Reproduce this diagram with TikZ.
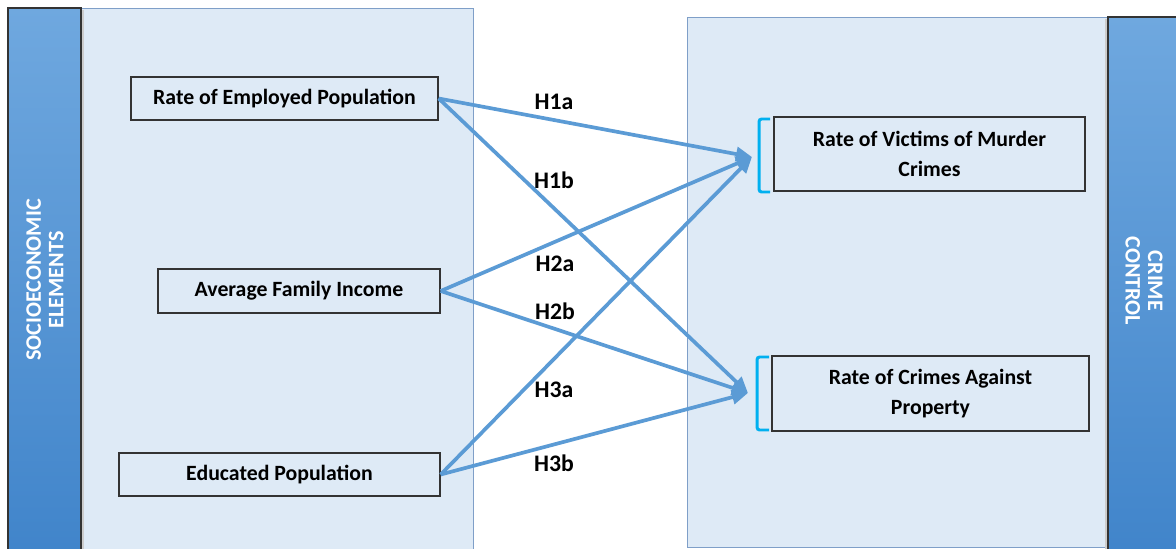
\documentclass[tikz,border=0pt]{standalone}
\usepackage{fontspec}
\setmainfont{Carlito}
\usetikzlibrary{arrows.meta}
\definecolor{panelblue}{HTML}{DEEAF6}
\definecolor{paneledge}{HTML}{7F9FC8}
\definecolor{arrowblue}{HTML}{5B9BD5}
\definecolor{bartop}{HTML}{6FA8DF}
\definecolor{barbottom}{HTML}{4084CA}
\definecolor{bracketcyan}{HTML}{00B0F0}
\begin{document}
\begin{tikzpicture}[>={Triangle[length=3.2mm,width=2.8mm]},x=0.2mm,y=-0.2mm,
	var/.style={draw=black!80,line width=0.8pt,inner sep=0pt,align=center,font=\fontsize{12.4}{17}\selectfont\bfseries},
	link/.style={->,draw=arrowblue,fill=arrowblue,line width=2.1pt},
	hyp/.style={font=\fontsize{13.5}{16}\selectfont\bfseries},
	bar/.style={draw=black!80,line width=0.8pt,top color=bartop,bottom color=barbottom},
	barlabel/.style={white,align=center,font=\fontsize{12.6}{12.8}\selectfont\bfseries},
	brack/.style={draw=bracketcyan,line width=1.7pt,rounded corners=1.5pt}]
		\useasboundingbox (0,0) rectangle (1176,549);
		\clip (0,0) rectangle (1176,549);
		\fill[white] (0,0) rectangle (1176,549);
		\draw[paneledge,fill=panelblue] (8,8) rectangle (473,560);
		\draw[paneledge,fill=panelblue] (687,17) rectangle (1190,547);
		\fill[black!20] (81,10) rectangle (84,560);
		\fill[black!20] (1105,19) rectangle (1108,560);
		\draw[bar] (8,8) rectangle (81,560);
		\draw[bar] (1108,17) rectangle (1190,560);
		\node[barlabel,rotate=90] (socio) at (45,280) {SOCIOECONOMIC\\ELEMENTS};
		\node[barlabel,rotate=-90] (crime) at (1144,281) {CRIME\\CONTROL};
		\node[var,minimum width=61.4mm,minimum height=8.6mm] (employed) at (284.5,98.5) {Rate of Employed Population};
		\node[var,minimum width=56.4mm,minimum height=8.8mm] (income) at (299,291) {Average Family Income};
		\node[var,minimum width=64.2mm,minimum height=8.6mm] (educated) at (279.5,474.5) {Educated Population};
		\node[var,minimum width=62.2mm,minimum height=14.8mm] (victims) at (929.5,154) {Rate of Victims of Murder\\Crimes};
		\node[var,minimum width=63.4mm,minimum height=15mm] (property) at (930.5,393.5) {Rate of Crimes Against\\Property};
		\draw[brack] (770,119) -- (759,119) -- (759,192) -- (770,192);
		\draw[brack] (769,357) -- (757,357) -- (757,430) -- (769,430);
		\coordinate (vtip) at (752,157);
		\coordinate (ptip) at (748,393);
		\draw[link] (employed.east) -- (vtip);
		\draw[link] (employed.east) -- (ptip);
		\draw[link] (income.east) -- (vtip);
		\draw[link] (income.east) -- (ptip);
		\draw[link] (educated.east) -- (vtip);
		\draw[link] (educated.east) -- (ptip);
		\node[hyp] (h1a) at (554,102) {H1a};
		\node[hyp] (h1b) at (554,180) {H1b};
		\node[hyp] (h2a) at (555,264) {H2a};
		\node[hyp] (h2b) at (555,311) {H2b};
		\node[hyp] (h3a) at (554,390) {H3a};
		\node[hyp] (h3b) at (554,463) {H3b};
		\end{tikzpicture}
\end{document}
